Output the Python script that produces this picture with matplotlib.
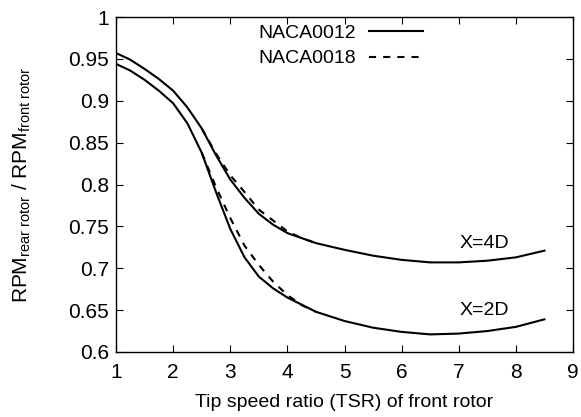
import matplotlib
matplotlib.use("Agg")
import matplotlib.pyplot as plt
from matplotlib.ticker import FuncFormatter, MultipleLocator
from matplotlib.lines import Line2D

plt.rcParams['font.family'] = ['Liberation Sans', 'DejaVu Sans']
plt.rcParams['mathtext.fontset'] = 'custom'
plt.rcParams['mathtext.rm'] = 'Liberation Sans'
plt.rcParams['mathtext.it'] = 'Liberation Sans:italic'

# Tip speed ratio samples
tsr = [1.0, 1.25, 1.5, 1.75, 2.0, 2.25, 2.5, 2.75, 3.0, 3.25, 3.5, 3.75,
       4.0, 4.5, 5.0, 5.5, 6.0, 6.5, 7.0, 7.5, 8.0, 8.5]

# NACA0012, X=4D and X=2D
naca0012_4d = [0.957, 0.949, 0.938, 0.926, 0.912, 0.892, 0.867, 0.835, 0.806,
               0.784, 0.765, 0.752, 0.742, 0.730, 0.722, 0.715, 0.710, 0.707,
               0.707, 0.709, 0.713, 0.721]
naca0012_2d = [0.944, 0.936, 0.925, 0.912, 0.897, 0.873, 0.838, 0.791, 0.747,
               0.713, 0.690, 0.676, 0.665, 0.648, 0.637, 0.629, 0.624, 0.621,
               0.622, 0.625, 0.630, 0.639]

# NACA0018 (differs only in the transition region)
tsr_0018 = [2.5, 2.75, 3.0, 3.25, 3.5, 3.75, 4.0, 4.25, 4.5]
naca0018_4d = [0.867, 0.837, 0.811, 0.791, 0.770, 0.757, 0.744, 0.736, 0.730]
naca0018_2d = [0.838, 0.797, 0.760, 0.727, 0.704, 0.684, 0.668, 0.656, 0.648]

curve_labels = ['X=4D', 'X=2D']
label_pos_x = [7.02, 7.02]
label_pos_y = [0.729, 0.650]

FS = 14
fig = plt.figure(figsize=(5.81, 4.17), dpi=100)
ax = fig.add_axes([0.1997, 0.1559, 0.9862 - 0.1997, 0.9592 - 0.1559])

lw = 1.5
dash = (3.4, 3.4)
ax.plot(tsr_0018, naca0018_4d, color='black', lw=lw, dashes=dash)
ax.plot(tsr_0018, naca0018_2d, color='black', lw=lw, dashes=dash)
ax.plot(tsr, naca0012_4d, color='black', lw=lw)
ax.plot(tsr, naca0012_2d, color='black', lw=lw)

h1 = Line2D([], [], color='black', lw=lw)
h2 = Line2D([], [], color='black', lw=lw, dashes=dash)
leg = ax.legend([h1, h2], ['NACA0012', 'NACA0018'], loc='upper left',
                bbox_to_anchor=(258 / 581, 1 - 24 / 417),
                bbox_transform=fig.transFigure,
                frameon=False, markerfirst=False, borderpad=0, borderaxespad=0,
                fontsize=FS, handlelength=2.75, handletextpad=0.7,
                labelspacing=0.42)

for lab, xx, yy in zip(curve_labels, label_pos_x, label_pos_y):
    ax.text(xx, yy, lab, fontsize=FS, ha='left', va='center')

ax.set_xlim(1, 9)
ax.set_ylim(0.6, 1.0)
ax.xaxis.set_major_locator(MultipleLocator(1))
ax.yaxis.set_major_locator(MultipleLocator(0.05))
ax.yaxis.set_major_formatter(FuncFormatter(lambda v, p: '%g' % round(v, 2)))
ax.tick_params(direction='in', top=True, right=True, length=5, width=0.8,
               labelsize=15)
ax.tick_params(axis='x', pad=8)
ax.tick_params(axis='y', pad=5)
for s in ax.spines.values():
    s.set_linewidth(1.0)

ax.set_xlabel('Tip speed ratio (TSR) of front rotor', fontsize=FS)
ax.set_ylabel(r'RPM$_{\mathrm{rear\ rotor}}$ / RPM$_{\mathrm{front\ rotor}}$',
              fontsize=15)
ax.xaxis.label.set_va('center')
ax.xaxis.set_label_coords(0.5, -0.152)
ax.yaxis.label.set_va('center')
ax.yaxis.set_label_coords(-0.2057, 0.5)

fig.savefig('out.png', dpi=100)
